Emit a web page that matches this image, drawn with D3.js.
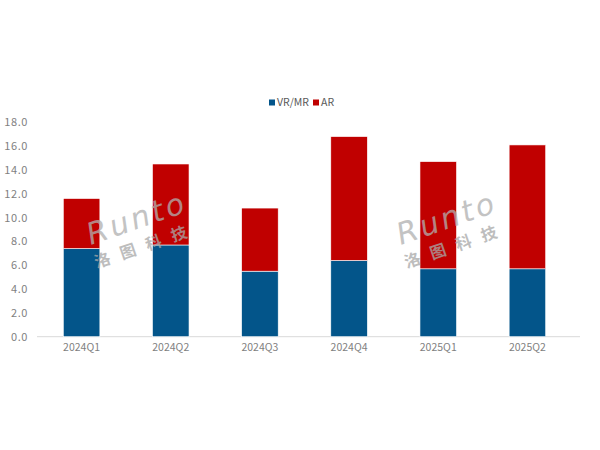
<!DOCTYPE html>
<html>
<head>
<meta charset="utf-8">
<script src="https://cdn.jsdelivr.net/npm/d3@7"></script>
<style>
  html, body { margin: 0; padding: 0; background: #ffffff; }
  svg { display: block; }
</style>
</head>
<body>
<svg id="chart" width="600" height="450"></svg>
<script>
const categories = ["2024Q1", "2024Q2", "2024Q3", "2024Q4", "2025Q1", "2025Q2"];
const vrmr = [7.4, 7.7, 5.5, 6.4, 5.7, 5.7];
const ar = [4.2, 6.8, 5.3, 10.4, 9.0, 10.4];
const seriesNames = ["VR/MR", "AR"];
const yTicks = [0, 2, 4, 6, 8, 10, 12, 14, 16, 18];

const colors = { "VR/MR": "#03558A", "AR": "#C00000" };
const svg = d3.select("#chart");
const margin = { left: 37, right: 28, top: 122.3, bottom: 113.3 };
const W = 600, H = 450;

const x = d3.scaleBand().domain(categories).range([margin.left, W - margin.right]).paddingInner(0.59).paddingOuter(0.295);
const y = d3.scaleLinear().domain([0, 18]).range([H - margin.bottom, margin.top]);

const rows = categories.map((c, i) => ({ cat: c, "VR/MR": vrmr[i], "AR": ar[i] }));
const stacked = d3.stack().keys(seriesNames)(rows);

const font = "'Noto Sans CJK SC', 'Liberation Sans', sans-serif";

// Axis line
svg.append("line")
  .attr("x1", margin.left).attr("x2", W - margin.right + 8)
  .attr("y1", y(0)).attr("y2", y(0))
  .attr("stroke", "#d9d9d9").attr("stroke-width", 1);

// Bars
svg.append("g").selectAll("g").data(stacked).join("g")
  .attr("fill", d => colors[d.key])
  .selectAll("rect").data(d => d).join("rect")
  .attr("x", d => x(d.data.cat))
  .attr("width", x.bandwidth())
  .attr("y", d => y(d[1]))
  .attr("height", d => y(d[0]) - y(d[1]))
  .attr("stroke", "#ffffff").attr("stroke-width", 0.6);

// Y axis
const yAxis = d3.axisLeft(y).tickValues(yTicks).tickFormat(d3.format(".1f")).tickSize(0).tickPadding(0);
const gy = svg.append("g").attr("transform", `translate(${margin.left - 9},0)`).call(yAxis);
gy.select(".domain").remove();
gy.selectAll("text").attr("fill", "#7f7f7f").style("font-family", font).style("font-size", "11px").style("letter-spacing", "0.6px");

// X axis
const xAxis = d3.axisBottom(x).tickSize(0).tickPadding(0);
const gx = svg.append("g").attr("transform", `translate(0,${y(0) + 7})`).call(xAxis);
gx.select(".domain").remove();
gx.selectAll("text").attr("fill", "#7f7f7f").style("font-family", font).style("font-size", "10.5px");

// Legend
const legend = svg.append("g").attr("transform", "translate(0,102.5)");
const legendItems = [{ name: "VR/MR", x: 269 }, { name: "AR", x: 313 }];
legendItems.forEach(it => {
  legend.append("rect").attr("x", it.x).attr("y", -3).attr("width", 6).attr("height", 6).attr("fill", colors[it.name]);
  legend.append("text").attr("x", it.x + 8).attr("y", 0).attr("dy", "0.35em")
    .attr("fill", "#595959").style("font-family", font).style("font-size", "10.5px").text(it.name);
});

// Watermarks
function watermark(cx, cy) {
  const g = svg.append("g").attr("transform", `translate(${cx},${cy}) rotate(-19)`).attr("opacity", 0.75);
  g.append("text").attr("x", 0).attr("y", 0).attr("text-anchor", "middle")
    .attr("fill", "#b0b0b0").style("font-family", "'DejaVu Sans', sans-serif").style("font-size", "30px")
    .style("font-weight", "200").style("font-style", "italic").style("letter-spacing", "3px").text("Runto");
  g.append("text").attr("x", 0).attr("y", 24).attr("text-anchor", "middle")
    .attr("fill", "#a8a8a8").style("font-family", "'Noto Sans CJK SC', sans-serif").style("font-size", "16px")
    .style("font-weight", "bold").style("letter-spacing", "11px").text("洛图科技");
}
watermark(140, 228);
watermark(450, 228);
</script>
</body>
</html>
